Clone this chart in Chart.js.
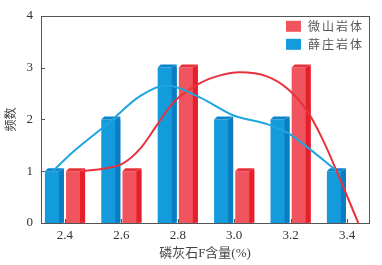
<!DOCTYPE html>
<html>
<head>
<meta charset="utf-8">
<script src="https://cdn.jsdelivr.net/npm/chart.js@4"></script>
<style>
  html, body { margin: 0; padding: 0; background: #fff; }
  #wrap { width: 382px; height: 265px; }
</style>
</head>
<body>
<div id="wrap"><canvas id="chart" width="382" height="265"></canvas></div>
<script>
const xTicks = [2.4, 2.6, 2.8, 3.0, 3.2, 3.4];
const yTicks = [0, 1, 2, 3, 4];

const weishanCounts = [1, 1, 3, 1, 3, 0];
const xuezhuangCounts = [1, 2, 3, 2, 2, 1];

// fitted curves
const xuezhuangCurveX = [2.357, 2.43, 2.55, 2.666, 2.76, 2.88, 2.996, 3.116, 3.187, 3.258, 3.36];
const xuezhuangCurveY = [1.0, 1.38, 1.91, 2.45, 2.66, 2.42, 2.08, 1.91, 1.75, 1.47, 1.02];
const weishanCurveX = [2.46, 2.55, 2.606, 2.666, 2.726, 2.783, 2.879, 2.95, 3.02, 3.116, 3.187, 3.258, 3.315, 3.375, 3.44];
const weishanCurveY = [1.0, 1.06, 1.15, 1.43, 1.89, 2.32, 2.7, 2.85, 2.91, 2.83, 2.6, 2.17, 1.6, 0.85, 0];

const SERIF = "'Liberation Serif', 'Noto Sans CJK SC', serif";
const LABEL_FONT = "'Liberation Serif', 'Noto Sans CJK SC', serif";

const toPoints = (xs, ys) => xs.map((x, i) => ({ x: x, y: ys[i] }));

// 3d look: darker side strip and top cap on each bar
const bar3d = {
    id: 'bar3d',
    afterDatasetDraw(chart, args) {
        const ds = chart.data.datasets[args.index];
        if (ds.type !== 'bar') return;
        const ctx = chart.ctx;
        const d = 5, h = 3;
        args.meta.data.forEach((bar, i) => {
            if (!ds.data[i] || !ds.data[i].y) return;
            const left = bar.x - bar.width / 2;
            const right = bar.x + bar.width / 2;
            const top = bar.y;
            const base = bar.base;
            ctx.save();
            ctx.fillStyle = ds.sideColor;
            ctx.beginPath();
            ctx.moveTo(right - d, top);
            ctx.lineTo(right, top - h);
            ctx.lineTo(right, base - 1);
            ctx.lineTo(right - d, base);
            ctx.closePath();
            ctx.fill();
            ctx.fillStyle = ds.topColor;
            ctx.beginPath();
            ctx.moveTo(left, top);
            ctx.lineTo(left + h, top - h);
            ctx.lineTo(right, top - h);
            ctx.lineTo(right - d, top);
            ctx.closePath();
            ctx.fill();
            ctx.restore();
        });
    }
};

// frame, inward ticks and legend
const frame = {
    id: 'frame',
    afterDraw(chart) {
        const ctx = chart.ctx;
        const a = chart.chartArea;
        const xs = chart.scales.x, ys = chart.scales.y;
        ctx.save();
        ctx.strokeStyle = '#555';
        ctx.lineWidth = 1;
        ctx.strokeRect(Math.round(a.left) + 0.5, Math.round(a.top) + 0.5,
            Math.round(a.right - a.left), Math.round(a.bottom - a.top));
        ctx.beginPath();
        xTicks.forEach(v => {
            const px = Math.round(xs.getPixelForValue(v)) + 0.5;
            ctx.moveTo(px, a.bottom);
            ctx.lineTo(px, a.bottom - 4);
        });
        yTicks.forEach(v => {
            const py = Math.round(ys.getPixelForValue(v)) + 0.5;
            ctx.moveTo(a.left, py);
            ctx.lineTo(a.left + 4, py);
        });
        ctx.stroke();

        // legend, red first
        const items = chart.data.datasets.filter(d => d.type === 'bar').reverse();
        ctx.font = "12px 'Noto Sans CJK SC', sans-serif";
        ctx.textBaseline = 'middle';
        ctx.textAlign = 'left';
        if ('letterSpacing' in ctx) ctx.letterSpacing = '2px';
        items.forEach((d, i) => {
            const y = a.top + 5 + i * 18;
            ctx.fillStyle = d.backgroundColor;
            ctx.fillRect(a.right - 83, y, 15, 11);
            ctx.fillStyle = '#555';
            ctx.fillText(d.label, a.right - 61, y + 6);
        });
        ctx.restore();
    }
};

new Chart(document.getElementById('chart'), {
    type: 'bar',
    data: {
        datasets: [
            {
                type: 'bar',
                label: '薛庄岩体',
                data: toPoints(xTicks, xuezhuangCounts),
                backgroundColor: '#139bdb',
                sideColor: '#0a7cc2',
                topColor: '#0b86cb',
                borderWidth: 0,
                order: 1,
            },
            {
                type: 'bar',
                label: '微山岩体',
                data: toPoints(xTicks, weishanCounts),
                backgroundColor: '#f0555f',
                sideColor: '#e71f2a',
                topColor: '#e8303a',
                borderWidth: 0,
                order: 1,
            },
            {
                type: 'line',
                label: '薛庄拟合',
                data: toPoints(xuezhuangCurveX, xuezhuangCurveY),
                borderColor: '#1fa6df',
                borderWidth: 2,
                pointRadius: 0,
                cubicInterpolationMode: 'monotone',
                order: 0,
            },
            {
                type: 'line',
                label: '微山拟合',
                data: toPoints(weishanCurveX, weishanCurveY),
                borderColor: '#e8323c',
                borderWidth: 2,
                pointRadius: 0,
                cubicInterpolationMode: 'monotone',
                order: 0,
            },
        ]
    },
    options: {
        responsive: false,
        animation: false,
        devicePixelRatio: 1,
        layout: { padding: { top: 11, right: 13, left: 0, bottom: 0 } },
        datasets: {
            bar: { categoryPercentage: 0.75, barPercentage: 0.9 }
        },
        plugins: {
            legend: { display: false },
            tooltip: { enabled: false },
        },
        scales: {
            x: {
                type: 'linear',
                offset: false,
                min: 2.315,
                max: 3.478,
                afterBuildTicks: (scale) => {
                    scale.ticks = xTicks.map(v => ({ value: v }));
                },
                afterFit: (scale) => { scale.height = 42; },
                grid: { display: false, drawTicks: false, offset: false },
                border: { display: false },
                ticks: {
                    padding: 5,
                    color: '#333',
                    font: { family: SERIF, size: 13 },
                    callback: (v) => Number(v).toFixed(1),
                },
                title: {
                    display: true,
                    text: '磷灰石F含量(%)',
                    color: '#444',
                    font: { family: LABEL_FONT, size: 13 },
                    padding: { top: 4, bottom: 4 },
                },
            },
            y: {
                min: 0,
                max: 4,
                afterFit: (scale) => { scale.width = 41; },
                grid: { display: false, drawTicks: false },
                border: { display: false },
                ticks: {
                    stepSize: 1,
                    padding: 8,
                    color: '#333',
                    font: { family: SERIF, size: 13 },
                },
                title: {
                    display: true,
                    text: '频数',
                    color: '#444',
                    font: { family: LABEL_FONT, size: 12 },
                    padding: { top: 5, bottom: 4 },
                },
            },
        },
    },
    plugins: [bar3d, frame],
});
</script>
</body>
</html>
